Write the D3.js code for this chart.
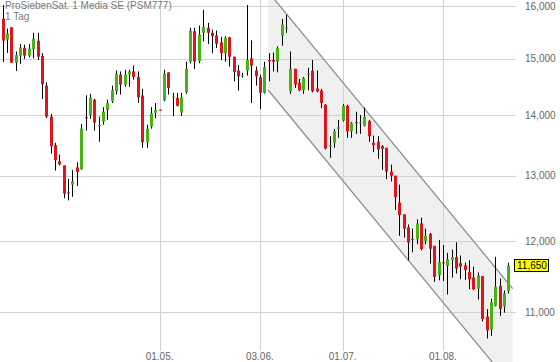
<!DOCTYPE html>
<html>
<head>
<meta charset="utf-8">
<script src="https://cdn.jsdelivr.net/npm/d3@7"></script>
<style>
  body { margin: 0; background: #fff; }
  svg { display: block; font-family: "Liberation Sans", Arial, sans-serif; }
</style>
</head>
<body>
<div id="container"></div>
<script>
// OHLC, one entry per trading day
const open = [15754, 15355, 15589, 14929, 15057, 15203, 15057, 15179, 15336, 15051,
  14516, 13974, 13495, 13231, 13165, 12736, 12859, 13132, 13106, 13964,
  14002, 14268, 13820, 13891, 14090, 14238, 14415, 14711, 14534, 14711,
  14769, 14670, 14339, 13545, 13808, 14043, 14092, 14255, 14752, 14310,
  14298, 14043, 14397, 14947, 15513, 14959, 15483, 15578, 15483, 15431,
  15304, 15103, 15399, 15038, 14787, 14688, 14782, 15008, 14787, 14663,
  14387, 14977, 14977, 14947, 15431, 15572, 14415, 14817, 14564, 14433,
  14723, 14782, 14463, 14427, 14179, 13485, 13535, 13766, 13907, 14161,
  13726, 13879, 13869, 13820, 13898, 13535, 13551, 13479, 13452, 13066,
  13000, 12579, 12400, 12206, 12034, 12029, 12263, 12003, 12110, 11932,
  11510, 11693, 11641, 11725, 11768, 11679, 11651, 11557, 11478, 11323,
  11500, 10944, 10773, 11089, 11360, 11079, 11290];
const high = [16020, 15564, 15589, 15133, 15274, 15260, 15274, 15483, 15483, 15103,
  14574, 14020, 13535, 13342, 13165, 12950, 13094, 13215, 13849, 14344,
  14369, 14280, 13974, 14138, 14268, 14516, 14787, 14769, 14799, 14799,
  14876, 14769, 14457, 13837, 14138, 14209, 14095, 14799, 14752, 14387,
  14387, 14387, 14947, 15578, 15578, 15621, 15925, 15673, 15545, 15526,
  15407, 15418, 15407, 15038, 14888, 14746, 16020, 15342, 14858, 14711,
  14947, 15103, 15114, 15228, 15749, 15830, 15133, 14817, 14635, 14670,
  14835, 14977, 14787, 14457, 14191, 13644, 13766, 13919, 14191, 14179,
  13881, 14060, 14002, 14131, 13919, 13655, 13644, 13495, 13452, 13177,
  13000, 12858, 12400, 12247, 12186, 12324, 12350, 12186, 12121, 11932,
  12018, 11944, 11830, 11876, 11984, 11792, 11689, 11721, 11633, 11548,
  11500, 11042, 11183, 11773, 11464, 11299, 11689];
const low = [14941, 15108, 14924, 14777, 14906, 14995, 15027, 15008, 14977, 14280,
  13947, 13358, 13083, 13165, 12644, 12614, 12670, 12836, 13094, 13738,
  13935, 13738, 13551, 13837, 13919, 14209, 14356, 14356, 14493, 14493,
  14622, 14209, 13452, 13452, 13771, 13947, 14082, 14238, 14356, 13985,
  14149, 13985, 14369, 14918, 14812, 14918, 15323, 15274, 15103, 15198,
  14977, 14947, 14858, 14592, 14427, 14657, 14693, 14209, 14516, 14103,
  14374, 14592, 14769, 14752, 15241, 15483, 14369, 14475, 14415, 14369,
  14433, 14397, 14397, 14121, 13424, 13287, 13452, 13617, 13891, 13617,
  13617, 13683, 13683, 13808, 13551, 13380, 13271, 13094, 12945, 12908,
  12466, 12079, 12053, 11722, 11838, 11955, 11866, 11955, 11675, 11416,
  11440, 11430, 11243, 11478, 11534, 11454, 11444, 11314, 11304, 11173,
  10879, 10653, 10687, 11079, 10952, 10995, 11253];
const close = [15336, 15469, 14929, 15070, 15209, 15057, 15184, 15374, 15038, 14539,
  13974, 13479, 13248, 13182, 12721, 12725, 12910, 13061, 13771, 13954,
  14308, 13874, 13830, 14060, 14209, 14433, 14729, 14534, 14711, 14769,
  14670, 14308, 13545, 13771, 14032, 14090, 14085, 14729, 14475, 14321,
  14161, 14308, 14817, 15526, 14947, 15450, 15597, 15483, 15418, 15279,
  15103, 15388, 15038, 14759, 14681, 14699, 14977, 14876, 14681, 14387,
  14848, 14954, 14947, 15198, 15640, 15583, 14817, 14534, 14433, 14652,
  14734, 14415, 14415, 14209, 13441, 13495, 13726, 13792, 14161, 13726,
  13865, 13869, 13879, 13974, 13644, 13495, 13424, 13436, 13066, 13000,
  12664, 12389, 12186, 11979, 12024, 12263, 11886, 12079, 11890, 11486,
  11697, 11685, 11735, 11768, 11605, 11633, 11585, 11454, 11314, 11510,
  10910, 10760, 11135, 11352, 11046, 11257, 11650];

// axis ticks
const yTicks = [11000, 12000, 13000, 14000, 15000, 16000];
const xTickIdx = [36, 59, 78, 101];
const xTickLabels = ['01.05.', '03.06.', '01.07.', '01.08.'];

// trend channel (start/end day index, price at each end)
const channelIdx = [60.9, 117];
const channelUpper = [16282, 11323];
const channelLower = [14438, 10040];

const title = 'ProSiebenSat. 1 Media SE (PSM777)';
const period = '1 Tag';

const width = 560, height = 362;
const plotRight = 516, plotBottom = 351;

const svg = d3.select('#container').append('svg')
  .attr('width', width)
  .attr('height', height);

// Scales
const x = d3.scaleLinear().domain([0, open.length - 1]).range([2.7, 508.3]);
const y = d3.scaleLog().domain([11000, 16000]).range([312.3, 6]);

const candles = open.map((o, i) => ({ i, o, h: high[i], l: low[i], c: close[i] }));

// Channel shading
const chan = channelIdx.map((d, k) => ({ i: d, up: channelUpper[k], lo: channelLower[k] }));
svg.append('path')
  .datum(chan)
  .attr('d', d3.area().x(d => x(d.i)).y0(d => y(d.lo)).y1(d => y(d.up)))
  .style('fill', '#f0f0f0');

// Grid
svg.append('g').selectAll('line').data(yTicks).enter().append('line')
  .attr('x1', 0).attr('x2', plotRight)
  .attr('y1', d => Math.round(y(d)) + 0.5).attr('y2', d => Math.round(y(d)) + 0.5)
  .style('stroke', '#d2d2d2');
svg.append('g').selectAll('line').data(xTickIdx).enter().append('line')
  .attr('x1', d => Math.round(x(d)) + 0.5).attr('x2', d => Math.round(x(d)) + 0.5)
  .attr('y1', 0).attr('y2', plotBottom)
  .style('stroke', '#d2d2d2');

// Channel lines
['up', 'lo'].forEach(k => {
  svg.append('path')
    .datum(chan)
    .attr('d', d3.line().x(d => x(d.i)).y(d => y(d[k])))
    .style('fill', 'none')
    .style('stroke', '#8f8f8f')
    .style('stroke-width', 1.3);
});

// Candles
const g = svg.append('g').selectAll('g').data(candles).enter().append('g');
g.append('line')
  .attr('x1', d => Math.round(x(d.i)) + 0.5).attr('x2', d => Math.round(x(d.i)) + 0.5)
  .attr('y1', d => y(d.h)).attr('y2', d => y(d.l))
  .style('stroke', '#000')
  .style('stroke-width', 1);
g.append('rect')
  .attr('x', d => Math.round(x(d.i)) - 1)
  .attr('width', 3)
  .attr('y', d => y(Math.max(d.o, d.c)))
  .attr('height', d => Math.max(1, Math.abs(y(d.o) - y(d.c))))
  .style('fill', d => d.c >= d.o ? '#46b417' : '#e0141b');

// Y labels
svg.append('g').selectAll('text').data(yTicks).enter().append('text')
  .attr('x', 525).attr('y', d => y(d))
  .attr('dy', '0.35em')
  .style('font-size', '10px').style('fill', '#666')
  .text(d => d3.format(',')(d));

// X labels
svg.append('g').selectAll('text').data(xTickIdx).enter().append('text')
  .attr('x', d => x(d)).attr('y', 360)
  .attr('text-anchor', 'middle')
  .style('font-size', '10px').style('fill', '#666')
  .text((d, k) => xTickLabels[k]);

// Last price marker
const last = close[close.length - 1];
svg.append('rect')
  .attr('x', 514.5).attr('y', Math.round(y(last)) - 5.5)
  .attr('width', 34).attr('height', 12)
  .style('fill', '#ffff00').style('stroke', '#000');
svg.append('text')
  .attr('x', 517).attr('y', y(last)).attr('dy', '0.35em')
  .style('font-size', '10px').style('fill', '#000')
  .text(d3.format(',')(last));

// Title
svg.append('text').attr('x', 5).attr('y', 9)
  .style('font-size', '10px').style('fill', '#7a7a7a').text(title);
svg.append('text').attr('x', 5).attr('y', 20.3)
  .style('font-size', '10px').style('fill', '#7a7a7a').text(period);
</script>
</body>
</html>
